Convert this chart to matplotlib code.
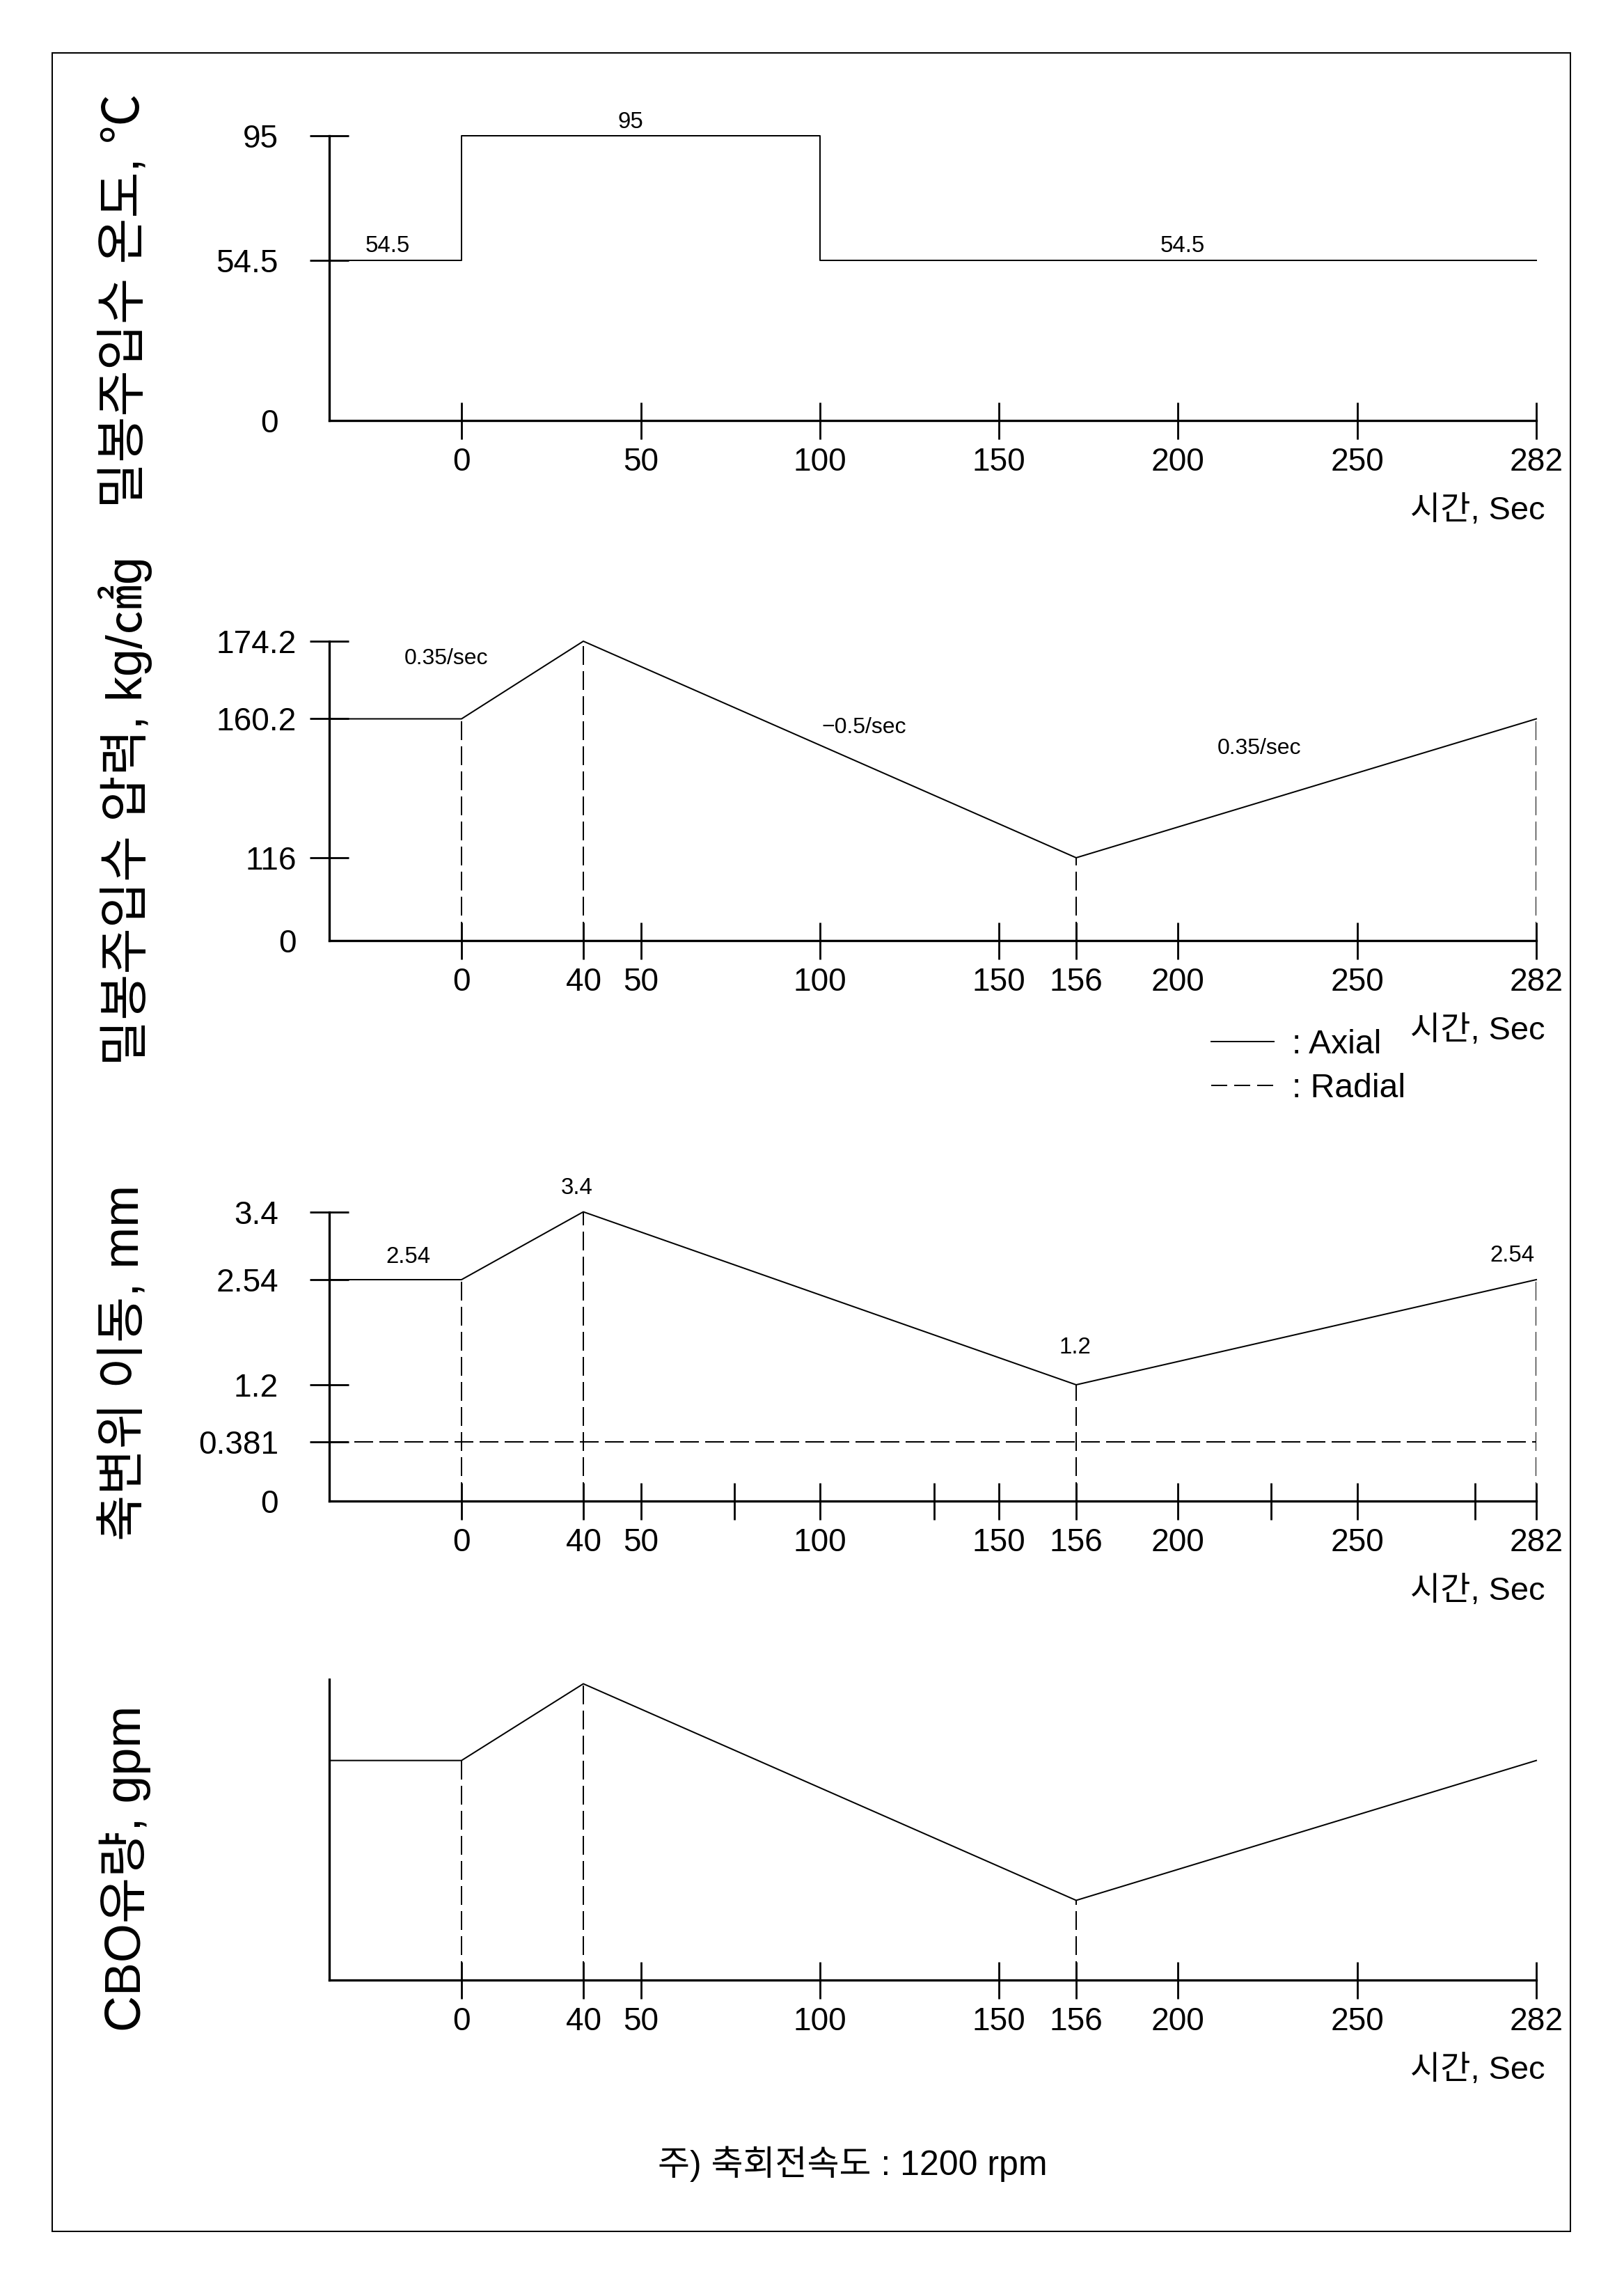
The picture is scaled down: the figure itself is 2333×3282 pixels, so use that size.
import numpy as np
import matplotlib
matplotlib.use('Agg')
import matplotlib.pyplot as plt
from matplotlib.lines import Line2D
from matplotlib.patches import Rectangle

W, H = 2333, 3282
DPI = 72  # 1 pt == 1 px

plt.rcParams['font.family'] = ['Liberation Sans', 'Noto Sans CJK KR', 'DejaVu Sans']
plt.rcParams['lines.scale_dashes'] = False

# ---------------- data ----------------
t_pre = -37  # pre-start period drawn left of t = 0

temp_t = [t_pre, 0, 0, 100, 100, 282]
temp_v = [54.5, 54.5, 95, 95, 54.5, 54.5]
temp_yticks = [0, 54.5, 95]
temp_ylabels = ['0', '54.5', '95']

press_t = [t_pre, 0, 40, 156, 282]
press_v = [160.2, 160.2, 174.2, 116, 160.2]
press_yticks = [0, 116, 160.2, 174.2]
press_ylabels = ['0', '116', '160.2', '174.2']
press_rates = ['0.35/sec', '\u22120.5/sec', '0.35/sec']

disp_t = [t_pre, 0, 40, 156, 282]
disp_axial = [2.54, 2.54, 3.4, 1.2, 2.54]
disp_radial = 0.381
disp_yticks = [0, 0.381, 1.2, 2.54, 3.4]
disp_ylabels = ['0', '0.381', '1.2', '2.54', '3.4']

flow_t = [t_pre, 0, 40, 156, 282]
flow_v = [0.73, 0.73, 0.985, 0.265, 0.73]  # relative, no values given

event_t = [0, 40, 156, 282]
xticks_temp = [0, 50, 100, 150, 200, 250, 282]
xticks_event = [0, 40, 50, 100, 150, 156, 200, 250, 282]
xticks_minor_disp = [76, 132, 226, 271]

ylabels = ['밀봉주입수 온도, ℃', '밀봉주입수 압력, kg/㎠g', '축변위 이동, mm', 'CBO유량, gpm']
xlabel = '시간, Sec'
note = '주) 축회전속도 : 1200 rpm'

# ---------------- schematic (non-uniform) axis scales ----------------
def piecewise(vals, px):
    v = np.asarray(vals, float)
    p = np.asarray(px, float)
    s0 = (p[1] - p[0]) / (v[1] - v[0])
    s1 = (p[-1] - p[-2]) / (v[-1] - v[-2])
    v = np.r_[v[0] - 1e4, v, v[-1] + 1e4]
    p = np.r_[p[0] - 1e4 * s0, p, p[-1] + 1e4 * s1]
    fwd = lambda x: np.interp(x, v, p)
    inv = lambda y: np.interp(y, p, v)
    return fwd, inv

x_fwd, x_inv = piecewise([t_pre, 0, 40, 50, 100, 150, 156, 200, 250, 282],
                         [473, 663, 838, 921, 1178, 1435, 1546, 1692, 1950, 2207])

fig = plt.figure(figsize=(W / DPI, H / DPI), dpi=DPI)

LEFT, RIGHT = 473, 2207
DASH = (0, (27, 9))


def make_panel(top, bottom, yvals, ypx, ytop, ypad=45):
    ax = fig.add_axes([LEFT / W, 1 - bottom / H, (RIGHT - LEFT) / W, (bottom - top) / H])
    ax.set_xscale('function', functions=(x_fwd, x_inv))
    if yvals is not None:
        f, i = piecewise(yvals, ypx)
        ax.set_yscale('function', functions=(f, i))
    ax.set_xlim(t_pre, 282)
    ax.set_ylim(0, ytop)
    ax.patch.set_visible(False)
    for s in ['top', 'right']:
        ax.spines[s].set_visible(False)
    for s in ['left', 'bottom']:
        ax.spines[s].set_linewidth(3.3)
    ax.tick_params(axis='x', which='both', direction='inout', length=53, width=2.8,
                   pad=12, labelsize=46)
    ax.tick_params(axis='y', direction='inout', length=56, width=2.8, pad=ypad, labelsize=46)
    ax.annotate(xlabel, xy=(1, 0), xycoords='axes fraction', xytext=(13, -130),
                textcoords='offset points', ha='right', va='center', fontsize=47)
    return ax


def note_at(ax, text, xy, off, size=33):
    ax.annotate(text, xy=xy, xytext=off, textcoords='offset points',
                ha='center', va='center', fontsize=size)


# ---- panel 1: temperature ----
ax1 = make_panel(195, 604, temp_yticks, [0, 230, 409], 95)
ax1.plot(temp_t, temp_v, color='k', lw=2, clip_on=False)
ax1.set_xticks(xticks_temp, [str(v) for v in xticks_temp])
ax1.set_yticks(temp_yticks, temp_ylabels)
ax1.yaxis.get_major_ticks()[0].tick1line.set_visible(False)
note_at(ax1, '54.5', (0, 54.5), (-106, 20))
note_at(ax1, '95', (50, 95), (-15, 19))
note_at(ax1, '54.5', (200, 54.5), (7, 20))

# ---- panel 2: pressure ----
ax2 = make_panel(921, 1351, press_yticks, [0, 119, 318.5, 430], 174.2, ypad=19)
ax2.plot(press_t, press_v, color='k', lw=2, clip_on=False)
ax2.vlines(event_t, 0, press_v[1:], colors='k', lw=2, linestyles=[DASH])
ax2.set_xticks(xticks_event, [str(v) for v in xticks_event])
ax2.set_yticks(press_yticks, press_ylabels)
ax2.yaxis.get_major_ticks()[0].tick1line.set_visible(False)
note_at(ax2, press_rates[0], (0, 160.2), (-22, 86), 32)
note_at(ax2, press_rates[1], (40, 174.2), (403, -124), 32)
note_at(ax2, press_rates[2], (156, 116), (263, 157), 32)

# ---- panel 3: shaft displacement ----
ax3 = make_panel(1740.6, 2156, disp_yticks, [0, 85, 167, 318, 415.4], 3.4)
ax3.plot(disp_t, disp_axial, color='k', lw=2, clip_on=False)
ax3.hlines(disp_radial, t_pre, 282, colors='k', lw=2, linestyles=[DASH])
ax3.vlines(event_t, 0, disp_axial[1:], colors='k', lw=2, linestyles=[DASH])
ax3.set_xticks(xticks_event, [str(v) for v in xticks_event])
ax3.set_xticks(xticks_minor_disp, minor=True)
ax3.set_yticks(disp_yticks, disp_ylabels)
ax3.yaxis.get_major_ticks()[0].tick1line.set_visible(False)
note_at(ax3, '2.54', (0, 2.54), (-77, 33))
note_at(ax3, '3.4', (40, 3.4), (-9, 34))
note_at(ax3, '1.2', (156, 1.2), (-2, 53))
note_at(ax3, '2.54', (282, 2.54), (-35, 34))

# ---- panel 4: CBO flow ----
ax4 = make_panel(2412, 2844, None, None, 1.0)
ax4.plot(flow_t, flow_v, color='k', lw=2, clip_on=False)
ax4.vlines(event_t[:3], 0, flow_v[1:4], colors='k', lw=2, linestyles=[DASH])
ax4.set_xticks(xticks_event, [str(v) for v in xticks_event])
ax4.set_yticks([])

# ---- y labels ----
for text, yc in zip(ylabels, [432, 1165, 1957, 2684]):
    fig.text(180 / W, 1 - yc / H, text, rotation=90, ha='center', va='center', fontsize=72)

# ---- legend ----
handles = [Line2D([], [], color='k', lw=2), Line2D([], [], color='k', lw=2, ls=(0, (23, 10)))]
fig.legend(handles, [': Axial', ': Radial'], loc='center left',
           bbox_to_anchor=(1740 / W, 1 - 1532 / H), frameon=False, fontsize=48,
           handlelength=90 / 48, handletextpad=0.55, labelspacing=0.38,
           borderpad=0, borderaxespad=0)

# ---- footnote and frame ----
fig.text(945 / W, 1 - 3108 / H, note, ha='left', va='center', fontsize=50)
fig.add_artist(Rectangle((75 / W, 1 - 3205 / H), (2256 - 75) / W, (3205 - 76) / H,
                         transform=fig.transFigure, fill=False, lw=2, color='k'))

fig.savefig('out.png', dpi=DPI)
